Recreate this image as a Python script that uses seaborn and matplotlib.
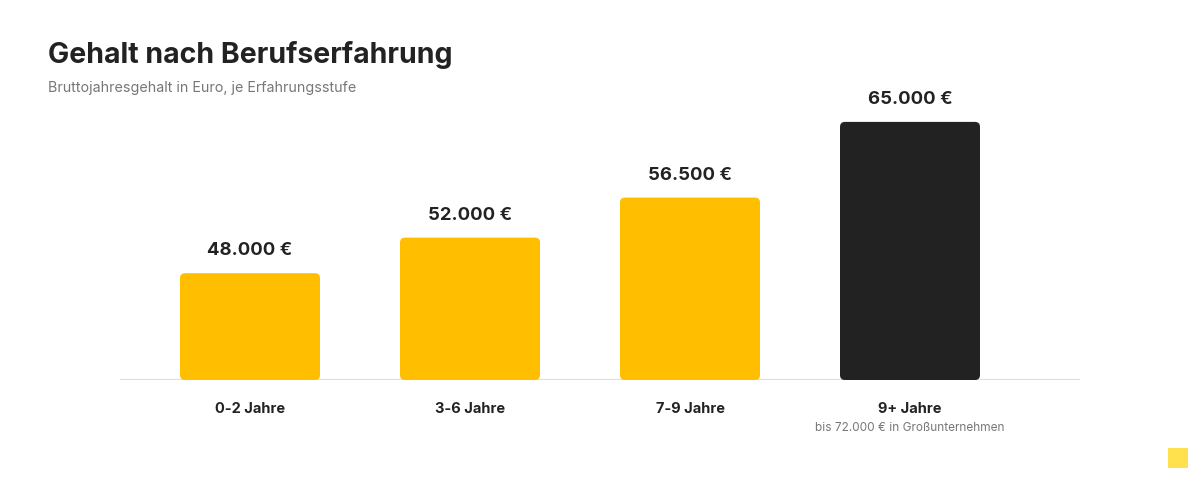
import matplotlib.pyplot as plt
import seaborn as sns
import pandas as pd
from matplotlib.patches import FancyBboxPatch, Rectangle

# Daten
stufen = ['0-2 Jahre', '3-6 Jahre', '7-9 Jahre', '9+ Jahre']
gehalt = [48000, 52000, 56500, 65000]
labels = ['48.000 €', '52.000 €', '56.500 €', '65.000 €']
farben = ['#FFBF00', '#FFBF00', '#FFBF00', '#222222']
hinweis = 'bis 72.000 € in Großunternehmen'

df = pd.DataFrame({'stufe': stufen, 'gehalt': gehalt})

sns.set_style('white')
plt.rcParams['font.family'] = ['Inter', 'DejaVu Sans']

W, H = 1200, 484
fig = plt.figure(figsize=(W / 100, H / 100), dpi=100)
# Achse: x 120..1080 px, y 100..380 px (von oben)
ax = fig.add_axes([120 / W, 1 - 380 / H, 960 / W, 280 / H])

sns.barplot(data=df, x='stufe', y='gehalt', hue='stufe', palette=farben,
            saturation=1, width=140 / 220, legend=False, ax=ax)

ymin, ymax = 36000, 36000 + 280 / 8.9 * 1000
ax.set_xlim(-130 / 220, 830 / 220)
ax.set_ylim(ymin, ymax)

# Balken mit runden Ecken ersetzen
px_x = 1 / 220
px_y = (ymax - ymin) / 280
for p in list(ax.patches):
    x0, w = p.get_x(), p.get_width()
    y0, h = ymin, p.get_height() - ymin
    r = 5 * px_x
    fb = FancyBboxPatch((x0, y0), w, h,
                        boxstyle=f'round,pad=0,rounding_size={r}',
                        mutation_aspect=px_y / px_x,
                        facecolor=p.get_facecolor(), edgecolor='none', zorder=2)
    p.remove()
    ax.add_patch(fb)

# Werte über den Balken
for i, (v, t) in enumerate(zip(gehalt, labels)):
    ax.text(i, v + 14 * px_y, t, ha='center', va='bottom', fontsize=13.3,
            fontweight='bold', color='#222222')

# Grundlinie
ax.axhline(ymin, color='#dddddd', lw=1.5, zorder=1)
for s in ax.spines.values():
    s.set_visible(False)
ax.set_yticks([])
ax.set_xlabel('')
ax.set_ylabel('')
ax.tick_params(axis='x', length=0, pad=16)
ax.set_xticks(range(len(stufen)))
ax.set_xticklabels(stufen, fontsize=10.5, fontweight='bold', color='#222222')

ax.text(3, ymin - 48 * px_y, hinweis, ha='center', va='center', fontsize=8.5,
        color='#777777', clip_on=False)

# Titel
fig.text(48 / W, 1 - 55 / H, 'Gehalt nach Berufserfahrung', fontsize=20.5,
         fontweight='bold', color='#222222', va='center')
fig.text(48 / W, 1 - 88 / H, 'Bruttojahresgehalt in Euro, je Erfahrungsstufe',
         fontsize=10.3, color='#777777', va='center')

# kleines Logo unten rechts
fig.patches.append(Rectangle((1168 / W, 1 - 468 / H), 20 / W, 20 / H,
                             transform=fig.transFigure, facecolor='#FFE14D',
                             edgecolor='none'))

fig.savefig('out.png', dpi=100, facecolor='white')
